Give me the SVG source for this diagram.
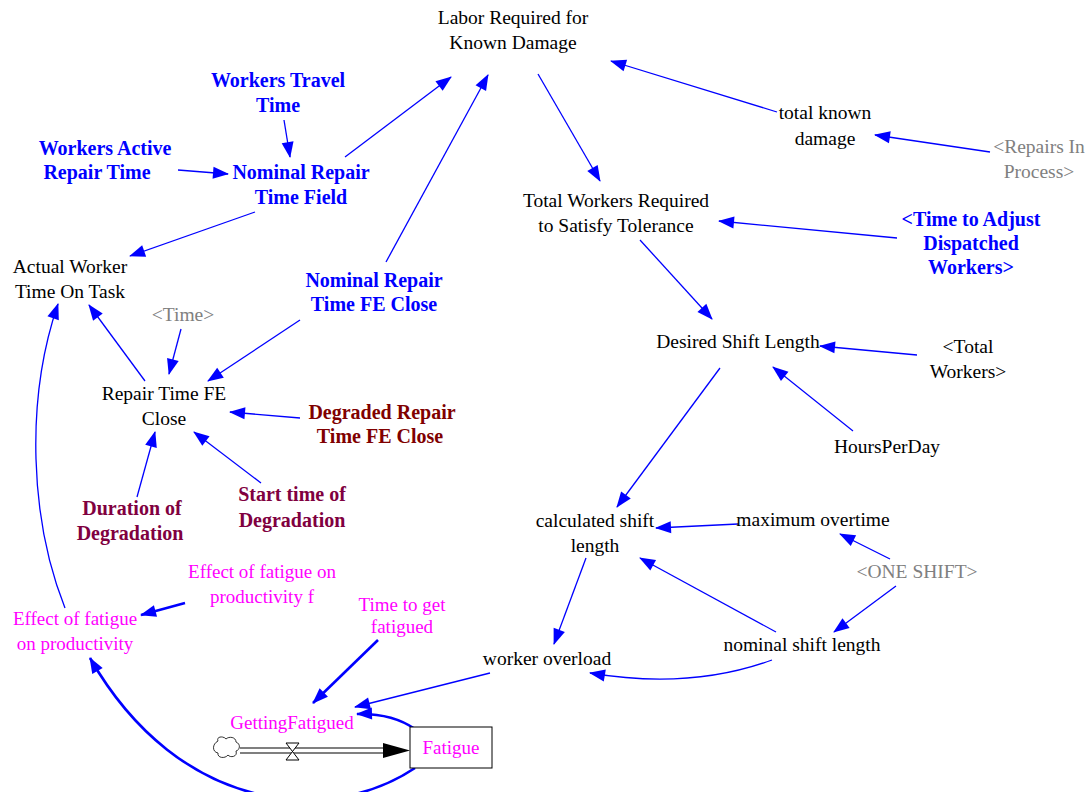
<svg xmlns="http://www.w3.org/2000/svg" width="1091" height="792" viewBox="0 0 1091 792">
<style>
text{font-family:"Liberation Serif","Times New Roman",serif;font-size:19.5px;text-anchor:middle}
.k{fill:#000}
.b{fill:#0000FF;font-weight:bold;font-size:20px}
.r{fill:#800000;font-weight:bold;font-size:20px}
.p{fill:#800040;font-weight:bold;font-size:20px}
.m{fill:#FF00FF;font-size:19px}
.g{fill:#808080}
.c{fill:none;stroke:#0000FF;stroke-width:1.3}
.t{fill:none;stroke:#0000FF;stroke-width:2.6}
</style>
<defs>
<marker id="a" markerUnits="userSpaceOnUse" markerWidth="20" markerHeight="14" refX="0" refY="0" viewBox="-16 -7 18 14" orient="auto">
<path d="M1,0 L-15,-6 L-15,6 Z" fill="#0000FF"/>
</marker>
</defs>
<rect width="1091" height="792" fill="#fff"/>
<g id="connectors">
<path class="c" d="M284,120 L290,157" marker-end="url(#a)"/>
<path class="c" d="M178,170 L228,174" marker-end="url(#a)"/>
<path class="c" d="M345,157 L451,77" marker-end="url(#a)"/>
<path class="c" d="M386,262 L488,75" marker-end="url(#a)"/>
<path class="c" d="M538,74 L600,181" marker-end="url(#a)"/>
<path class="c" d="M777,112 L611,61" marker-end="url(#a)"/>
<path class="c" d="M990,152 L875,135" marker-end="url(#a)"/>
<path class="c" d="M897,238 L719,221" marker-end="url(#a)"/>
<path class="c" d="M640,240 L712,319" marker-end="url(#a)"/>
<path class="c" d="M917,355 L820,346" marker-end="url(#a)"/>
<path class="c" d="M853,431 L773,367" marker-end="url(#a)"/>
<path class="c" d="M720,368 L617,507" marker-end="url(#a)"/>
<path class="c" d="M255,212 L130,256" marker-end="url(#a)"/>
<path class="c" d="M145,381 L89,305" marker-end="url(#a)"/>
<path class="c" d="M181,329 L169,374" marker-end="url(#a)"/>
<path class="c" d="M300,320 L208,381" marker-end="url(#a)"/>
<path class="c" d="M300,418 L230,412" marker-end="url(#a)"/>
<path class="c" d="M137,497 L155,432" marker-end="url(#a)"/>
<path class="c" d="M261,483 L194,432" marker-end="url(#a)"/>
<path class="c" d="M738,524 L656,528" marker-end="url(#a)"/>
<path class="c" d="M890,559 L840,534" marker-end="url(#a)"/>
<path class="c" d="M896,586 L834,632" marker-end="url(#a)"/>
<path class="c" d="M776,632 L640,558" marker-end="url(#a)"/>
<path class="c" d="M586,558 L554,644" marker-end="url(#a)"/>
<path class="c" d="M772,660 Q690,690 590,673" marker-end="url(#a)"/>
<path class="c" d="M490,673 L355,707" marker-end="url(#a)"/>
<path class="t" d="M378,640 L313,703" marker-end="url(#a)"/>
<path class="t" d="M415,729 Q392,713 357,714" marker-end="url(#a)"/>
<path class="t" d="M185,603 L141,615" marker-end="url(#a)"/>
<path class="t" d="M415,768 C330,825 180,815 90,658" marker-end="url(#a)"/>
<path class="c" d="M65,608 C30,520 25,400 58,304" marker-end="url(#a)"/>
</g>
<g id="flow_GettingFatigued">
<path d="M240,748 L384,748 M240,753 L384,753" stroke="#000" stroke-width="1.2" fill="none"/>
<path d="M383,743 L410,750.5 L383,758 Z" fill="#000"/>
<path d="M286,743 L299,743 L286,760 L299,760 Z" fill="#fff" stroke="#000" stroke-width="1"/>
<path d="M218,741 C216,736 224,736 226,739 C229,736 236,737 236,742 C241,744 240,750 236,751 C238,757 230,758 228,755 C225,759 217,758 218,753 C212,752 212,744 218,741 Z" fill="#fff" stroke="#000" stroke-width="0.8"/>
<text class="m" x="292" y="729">GettingFatigued</text>
</g>
<g id="Fatigue">
<rect x="410" y="727" width="82" height="41" fill="#fff" stroke="#000" stroke-width="1"/>
<text class="m" x="451" y="754">Fatigue</text>
</g>
<g id="LaborRequired"><text class="k" x="513" y="24">Labor Required for</text><text class="k" x="513" y="49">Known Damage</text></g>
<g id="WorkersTravelTime"><text class="b" x="278" y="87">Workers Travel</text><text class="b" x="278" y="112">Time</text></g>
<g id="WorkersActiveRepairTime"><text class="b" x="105" y="155">Workers Active</text><text class="b" x="97" y="179">Repair Time</text></g>
<g id="NominalRepairTimeField"><text class="b" x="301" y="179">Nominal Repair</text><text class="b" x="301" y="204">Time Field</text></g>
<g id="TotalKnownDamage"><text class="k" x="825" y="119">total known</text><text class="k" x="825" y="145">damage</text></g>
<g id="RepairsInProcess"><text class="g" x="1039" y="153">&lt;Repairs In</text><text class="g" x="1039" y="178">Process&gt;</text></g>
<g id="TotalWorkersRequired"><text class="k" x="616" y="207">Total Workers Required</text><text class="k" x="616" y="232">to Satisfy Tolerance</text></g>
<g id="TimeToAdjust"><text class="b" x="971" y="226">&lt;Time to Adjust</text><text class="b" x="971" y="250">Dispatched</text><text class="b" x="971" y="274">Workers&gt;</text></g>
<g id="ActualWorkerTime"><text class="k" x="70" y="273">Actual Worker</text><text class="k" x="70" y="298">Time On Task</text></g>
<g id="NominalRepairTimeFEClose"><text class="b" x="374" y="287">Nominal Repair</text><text class="b" x="374" y="311">Time FE Close</text></g>
<g id="Time"><text class="g" x="183" y="321">&lt;Time&gt;</text></g>
<g id="DesiredShiftLength"><text class="k" x="738" y="348">Desired Shift Length</text></g>
<g id="TotalWorkers"><text class="k" x="968" y="353">&lt;Total</text><text class="k" x="968" y="378">Workers&gt;</text></g>
<g id="RepairTimeFEClose"><text class="k" x="164" y="400">Repair Time FE</text><text class="k" x="164" y="425">Close</text></g>
<g id="DegradedRepairTimeFEClose"><text class="r" x="382" y="419">Degraded Repair</text><text class="r" x="380" y="443">Time FE Close</text></g>
<g id="HoursPerDay"><text class="k" x="887" y="453">HoursPerDay</text></g>
<g id="DurationOfDegradation"><text class="p" x="132" y="515">Duration of</text><text class="p" x="130" y="540">Degradation</text></g>
<g id="StartTimeOfDegradation"><text class="p" x="292" y="501">Start time of</text><text class="p" x="292" y="527">Degradation</text></g>
<g id="CalculatedShiftLength"><text class="k" x="595" y="527">calculated shift</text><text class="k" x="595" y="552">length</text></g>
<g id="MaximumOvertime"><text class="k" x="813" y="526">maximum overtime</text></g>
<g id="ONESHIFT"><text class="g" x="917" y="578">&lt;ONE SHIFT&gt;</text></g>
<g id="EffectOfFatigueF"><text class="m" x="262" y="578">Effect of fatigue on</text><text class="m" x="262" y="603">productivity f</text></g>
<g id="TimeToGetFatigued"><text class="m" x="402" y="611">Time to get</text><text class="m" x="402" y="633">fatigued</text></g>
<g id="EffectOfFatigue"><text class="m" x="75" y="625">Effect of fatigue</text><text class="m" x="75" y="650">on productivity</text></g>
<g id="WorkerOverload"><text class="k" x="547" y="665">worker overload</text></g>
<g id="NominalShiftLength"><text class="k" x="802" y="651">nominal shift length</text></g>
</svg>
